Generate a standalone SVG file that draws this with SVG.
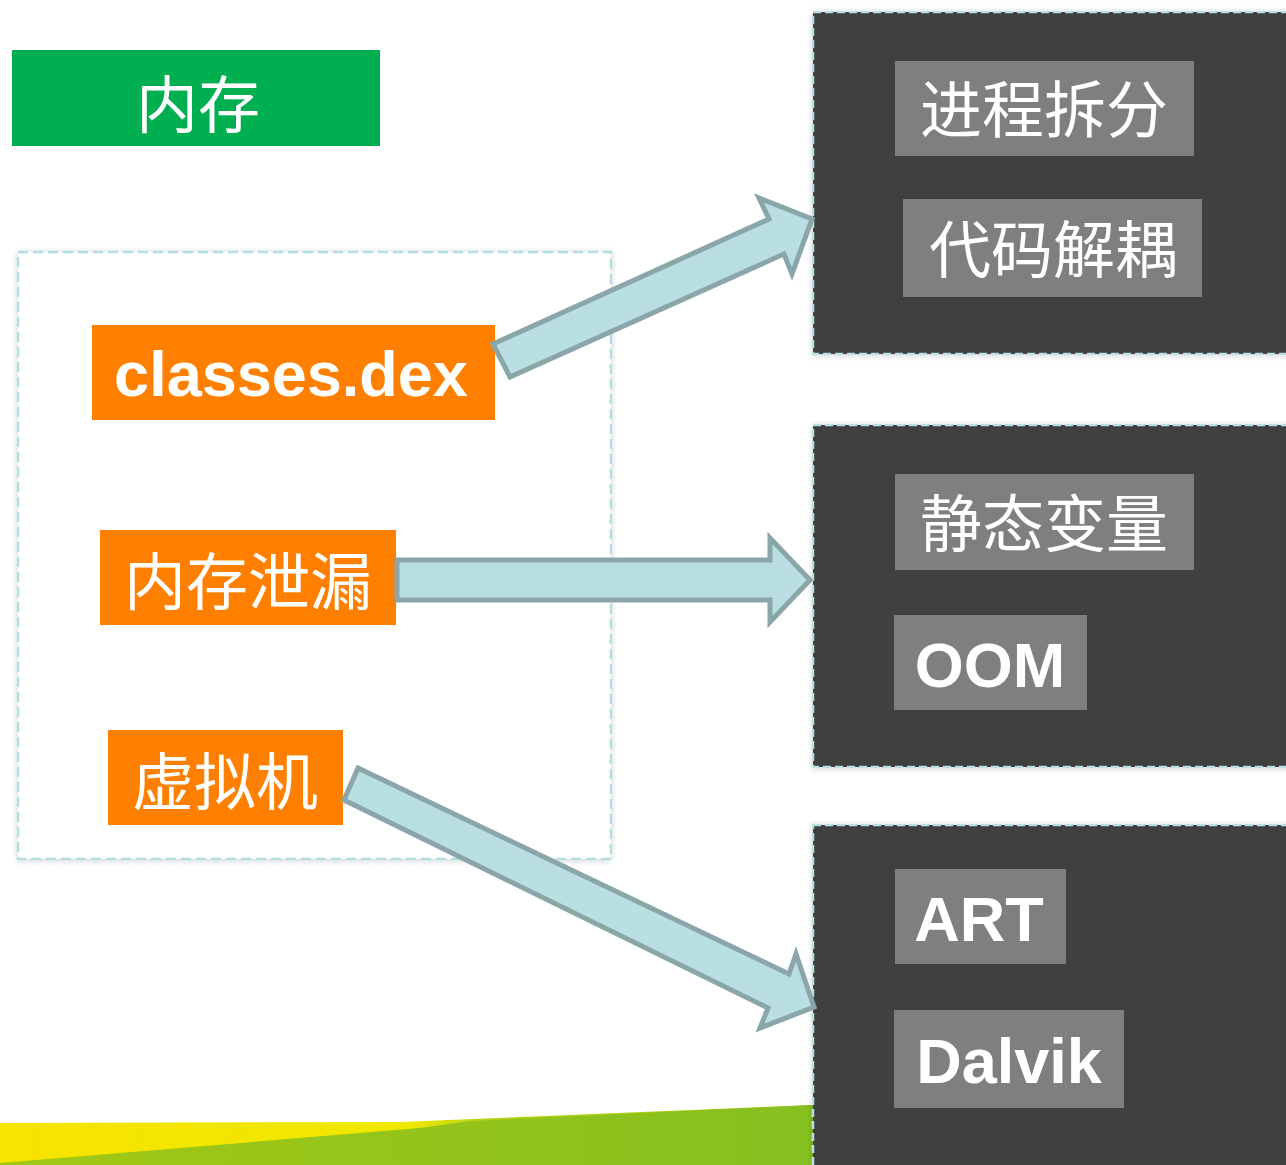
<svg xmlns="http://www.w3.org/2000/svg" width="1286" height="1165" viewBox="0 0 1286 1165">
  <defs>
    <filter id="shadow" x="-10%" y="-10%" width="120%" height="120%">
      <feGaussianBlur in="SourceAlpha" stdDeviation="3"/>
      <feOffset dx="0" dy="1" result="b"/>
      <feComponentTransfer><feFuncA type="linear" slope="0.18"/></feComponentTransfer>
      <feMerge><feMergeNode/><feMergeNode in="SourceGraphic"/></feMerge>
    </filter>
    <linearGradient id="yel" x1="0" y1="0" x2="1" y2="0">
      <stop offset="0" stop-color="#f7e400"/>
      <stop offset="0.5" stop-color="#efe800"/>
      <stop offset="0.6" stop-color="#b8d010"/>
      <stop offset="1" stop-color="#a6cc14"/>
    </linearGradient>
    <linearGradient id="grn" x1="0" y1="0" x2="1" y2="0">
      <stop offset="0" stop-color="#a2c814"/>
      <stop offset="1" stop-color="#86c020"/>
    </linearGradient>
    <style>
      .panel{fill:#404040;stroke:#b9dfe2;stroke-width:2.5;stroke-dasharray:8 4}
      .grey{fill:#7f7f7f}
      .orange{fill:#ff8000}
      .cjk{font-family:"Noto Sans CJK SC","Noto Sans CJK JP",sans-serif;font-size:62px;fill:#ffffff;text-anchor:middle;dominant-baseline:central}
      .lat{font-family:"Liberation Sans",Arial,sans-serif;font-weight:bold;font-size:63px;fill:#ffffff;text-anchor:middle}
      .arrow{fill:#b9dfe2;stroke:#8aa6a8;stroke-width:5;stroke-linejoin:miter}
    </style>
  </defs>
  <rect width="1286" height="1165" fill="#ffffff"/>

  <!-- bottom band -->
  <polygon points="0,1123 400,1122 813,1105 813,1165 0,1165" fill="url(#yel)"/>
  <polygon points="0,1163 420,1128 470,1121 813,1105 813,1165 0,1165" fill="url(#grn)"/>

  <!-- title -->
  <g id="title">
    <rect x="12" y="50" width="368" height="96" fill="#00b050"/>
    <text class="cjk" x="198" y="101" font-size="60">内存</text>
  </g>

  <!-- left dashed group -->
  <g id="group-left">
    <rect x="18" y="252" width="593" height="607" fill="#ffffff" stroke="#b3dde0" stroke-width="2.5" stroke-dasharray="10 5" filter="url(#shadow)"/>
  </g>

  <g id="node-classes">
    <rect class="orange" x="92" y="325" width="403" height="95"/>
    <text class="lat" x="291" y="396">classes.dex</text>
  </g>
  <g id="node-leak">
    <rect class="orange" x="100" y="530" width="296" height="95"/>
    <text class="cjk" x="248" y="578">内存泄漏</text>
  </g>
  <g id="node-vm">
    <rect class="orange" x="108" y="730" width="235" height="95"/>
    <text class="cjk" x="225" y="778">虚拟机</text>
  </g>

  <!-- right panels -->
  <g id="panel1">
    <rect class="panel" x="813" y="12" width="480" height="342" filter="url(#shadow)"/>
  </g>
  <g id="panel2">
    <rect class="panel" x="813" y="425" width="480" height="342" filter="url(#shadow)"/>
  </g>
  <g id="panel3">
    <rect class="panel" x="813" y="825" width="480" height="350" filter="url(#shadow)"/>
  </g>

  <g id="node-process">
    <rect class="grey" x="895" y="61" width="299" height="95"/>
    <text class="cjk" x="1044" y="106">进程拆分</text>
  </g>
  <g id="node-decouple">
    <rect class="grey" x="903" y="199" width="299" height="98"/>
    <text class="cjk" x="1053" y="246">代码解耦</text>
  </g>
  <g id="node-static">
    <rect class="grey" x="895" y="474" width="299" height="96"/>
    <text class="cjk" x="1044" y="520">静态变量</text>
  </g>
  <g id="node-oom">
    <rect class="grey" x="894" y="615" width="193" height="95"/>
    <text class="lat" x="990" y="687">OOM</text>
  </g>
  <g id="node-art">
    <rect class="grey" x="895" y="869" width="171" height="95"/>
    <text class="lat" x="979" y="941">ART</text>
  </g>
  <g id="node-dalvik">
    <rect class="grey" x="894" y="1010" width="230" height="98"/>
    <text class="lat" x="1009" y="1083">Dalvik</text>
  </g>

  <!-- connectors -->
  <g id="connectors">
    <polygon class="arrow" points="493,344 769,219 759,198 812,219 792,274 784,254 510,377"/>
    <polygon class="arrow" points="397,560 770,560 770,538 810,580 770,622 770,600 397,600"/>
    <polygon class="arrow" points="358,768 789,974 796,954 814,1007 760,1028 768,1008 344,800"/>
  </g>
</svg>
